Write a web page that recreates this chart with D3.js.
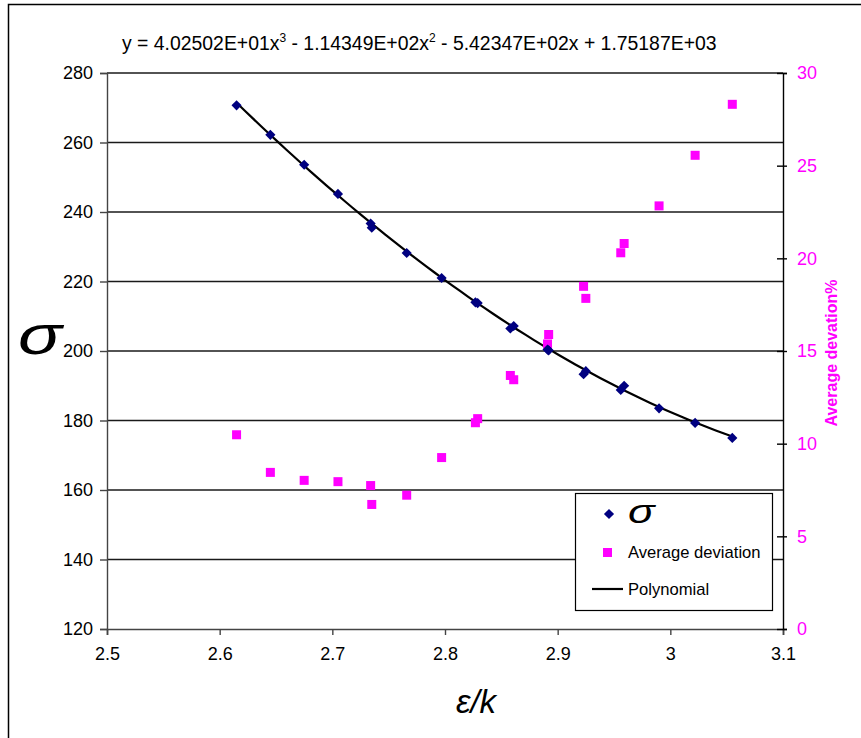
<!DOCTYPE html>
<html>
<head>
<meta charset="utf-8">
<script src="https://cdn.jsdelivr.net/npm/d3@7/dist/d3.min.js"></script>
<style>
  html, body { margin: 0; padding: 0; background: #fff; }
  svg { display: block; }
  text { font-family: "Liberation Sans", Arial, sans-serif; }
</style>
</head>
<body>
<svg id="chart" width="861" height="738"></svg>
<script>
// ε/k values shared by both series
const epsK = [2.615, 2.645, 2.675, 2.705, 2.734, 2.735, 2.766, 2.797, 2.827, 2.829,
              2.858, 2.861, 2.891, 2.892, 2.923, 2.925, 2.956, 2.959, 2.990, 3.022, 3.055];
// σ values (left axis)
const sigma = [270.7, 262.2, 253.6, 245.2, 236.7, 235.5, 228.2, 221.0, 214.0, 213.8,
               206.5, 207.2, 200.4, 200.2, 193.3, 194.2, 188.8, 190.0, 183.5, 179.3, 175.0];
// Average deviation in percent (right axis)
const avgDev = [10.48, 8.45, 8.02, 7.95, 7.74, 6.72, 7.22, 9.25, 11.13, 11.35,
                13.68, 13.45, 15.38, 15.89, 18.49, 17.84, 20.30, 20.80, 22.83, 25.56, 28.31];
// Cubic trendline coefficients (x^3, x^2, x, 1), as printed in the equation
const polyCoef = [40.2502, -114.349, -542.347, 1751.87];
const equationParts = ["y = 4.02502E+01x", "3", " - 1.14349E+02x", "2", " - 5.42347E+02x + 1.75187E+03"];

const xTicks = [2.5, 2.6, 2.7, 2.8, 2.9, 3, 3.1];
const yTicks = [120, 140, 160, 180, 200, 220, 240, 260, 280];
const y2Ticks = [0, 5, 10, 15, 20, 25, 30];

const svg = d3.select("#chart");
const L = 107, R = 783, T = 73, B = 629;

const x = d3.scaleLinear().domain([2.5, 3.1]).range([L, R]);
const y = d3.scaleLinear().domain([120, 280]).range([B, T]);
const y2 = d3.scaleLinear().domain([0, 30]).range([B, T]);

// outer frame
svg.append("rect").attr("x", 8.5).attr("y", 4.5).attr("width", 900).attr("height", 800)
  .attr("fill", "none").attr("stroke", "#000").attr("stroke-width", 1.5);

// horizontal gridlines
svg.append("g").selectAll("line").data(yTicks.filter(d => d !== 120)).join("line")
  .attr("x1", L).attr("x2", R)
  .attr("y1", d => y(d)).attr("y2", d => y(d))
  .attr("stroke", "#1a1a1a").attr("stroke-width", 1.4);

// left axis
const gy = svg.append("g").attr("transform", `translate(${L},0)`)
  .call(d3.axisLeft(y).tickValues(yTicks).tickSize(7).tickPadding(7).tickFormat(d3.format("d")));
gy.select(".domain").attr("stroke", "#444").attr("stroke-width", 1.4);
gy.selectAll(".tick line").attr("stroke", "#444").attr("stroke-width", 1.4);
gy.selectAll("text").attr("font-size", 18).attr("fill", "#000")
  .attr("font-family", "Liberation Sans, Arial, sans-serif");

// bottom axis
const gx = svg.append("g").attr("transform", `translate(0,${B})`)
  .call(d3.axisBottom(x).tickValues(xTicks).tickSize(6).tickPadding(12).tickFormat(d => String(d)));
gx.select(".domain").attr("stroke", "#444").attr("stroke-width", 1.6);
gx.selectAll(".tick line").attr("stroke", "#444").attr("stroke-width", 1.4);
gx.selectAll("text").attr("font-size", 18).attr("fill", "#000")
  .attr("font-family", "Liberation Sans, Arial, sans-serif");

// right axis with crossing ticks
const gr = svg.append("g").attr("transform", `translate(${R},0)`)
  .call(d3.axisRight(y2).tickValues(y2Ticks).tickSize(4).tickPadding(10));
gr.select(".domain").attr("stroke", "#000").attr("stroke-width", 1.4);
gr.selectAll(".tick line").attr("x1", -6).attr("stroke", "#000").attr("stroke-width", 1.4);
gr.selectAll("text").attr("font-size", 18).attr("fill", "#FF00FF")
  .attr("font-family", "Liberation Sans, Arial, sans-serif");

// polynomial trendline
const poly = v => ((polyCoef[0] * v + polyCoef[1]) * v + polyCoef[2]) * v + polyCoef[3];
const xs = d3.range(0, 61).map(i => epsK[0] + (epsK[epsK.length - 1] - epsK[0]) * i / 60);
svg.append("path")
  .datum(xs)
  .attr("fill", "none").attr("stroke", "#000").attr("stroke-width", 2.2)
  .attr("d", d3.line().x(d => x(d)).y(d => y(poly(d))));

// average deviation squares
svg.append("g").selectAll("rect").data(epsK.map((e, i) => [e, avgDev[i]])).join("rect")
  .attr("x", d => x(d[0]) - 4.5).attr("y", d => y2(d[1]) - 4.5)
  .attr("width", 9).attr("height", 9).attr("fill", "#FF00FF");

// σ diamonds
const diamond = d3.symbol().type(d3.symbolDiamond2).size(66);
svg.append("g").selectAll("path").data(epsK.map((e, i) => [e, sigma[i]])).join("path")
  .attr("transform", d => `translate(${x(d[0])},${y(d[1])})`)
  .attr("d", diamond).attr("fill", "#000080");

// equation
const eq = svg.append("text").attr("x", 122).attr("y", 50).attr("font-size", 19.4).attr("fill", "#000");
equationParts.forEach((p, i) => {
  const ts = eq.append("tspan").text(p);
  if (i % 2 === 1) ts.attr("font-size", 12).attr("dy", -8);
  else if (i > 0) ts.attr("dy", 8);
});

// axis titles (σ glyph widened like a symbol-font sigma)
svg.append("text").attr("transform", "translate(40,354) scale(1.3,1)")
  .attr("text-anchor", "middle")
  .attr("font-family", "Liberation Serif, Times New Roman, serif").attr("font-style", "italic")
  .attr("font-size", 56).text("σ");
svg.append("text").attr("x", 476).attr("y", 713).attr("text-anchor", "middle")
  .attr("font-family", "Liberation Serif, Times New Roman, serif").attr("font-style", "italic")
  .attr("font-size", 33).text("ε/k");
svg.append("text")
  .attr("transform", `translate(837,${(T + B) / 2 + 2}) rotate(-90)`)
  .attr("text-anchor", "middle").attr("font-weight", "bold").attr("font-size", 16)
  .attr("fill", "#FF00FF").text("Average devation%");

// legend
const lg = svg.append("g");
lg.append("rect").attr("x", 575.5).attr("y", 493.5).attr("width", 197).attr("height", 117)
  .attr("fill", "#fff").attr("stroke", "#000").attr("stroke-width", 1.2);
lg.append("path").attr("transform", "translate(609,514)").attr("d", diamond).attr("fill", "#000080");
lg.append("text").attr("transform", "translate(628,523) scale(1.3,1)")
  .attr("font-family", "Liberation Serif, Times New Roman, serif").attr("font-style", "italic")
  .attr("font-size", 34).text("σ");
lg.append("rect").attr("x", 603).attr("y", 548).attr("width", 9).attr("height", 9).attr("fill", "#FF00FF");
lg.append("text").attr("x", 628).attr("y", 558).attr("font-size", 16.6).text("Average deviation");
lg.append("line").attr("x1", 592).attr("x2", 623).attr("y1", 589).attr("y2", 589)
  .attr("stroke", "#000").attr("stroke-width", 2.2);
lg.append("text").attr("x", 628).attr("y", 595).attr("font-size", 16.6).text("Polynomial");
</script>
</body>
</html>
